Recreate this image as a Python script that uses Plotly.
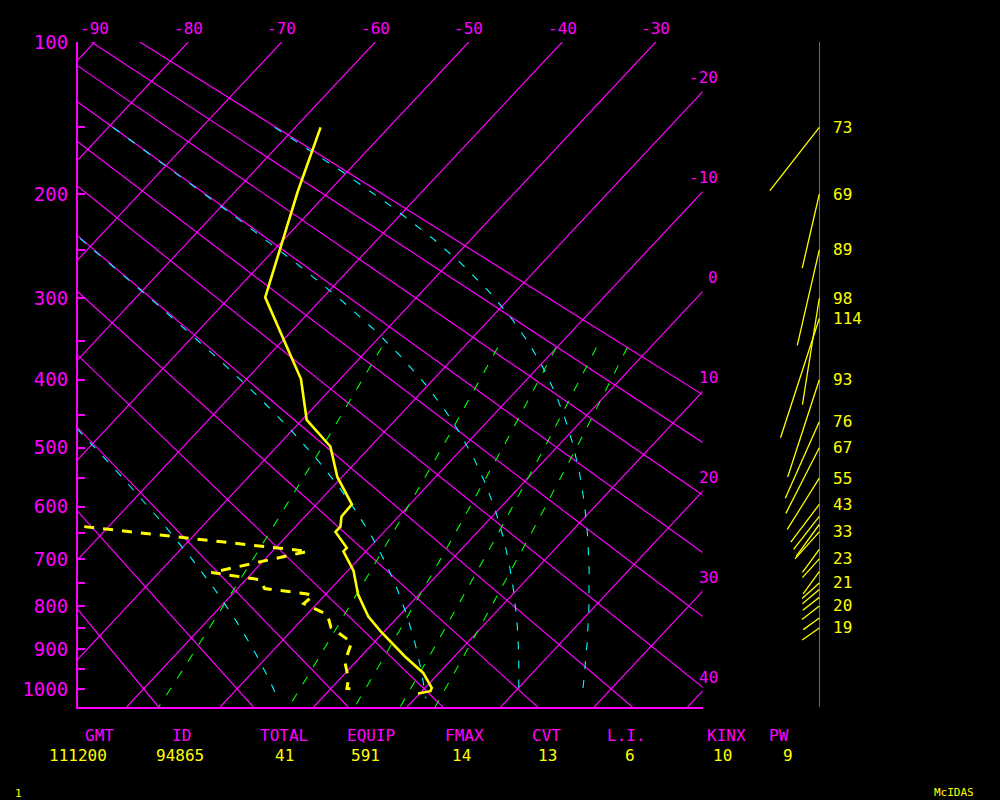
import numpy as np
import plotly.graph_objects as go

# ---------------- data ----------------
temp_p = [150, 198, 299, 399, 457, 498, 548, 596, 618, 637, 647, 678, 685, 724,
          775, 824, 858, 918, 959, 997, 1006, 1012]
temp_c = [-57.3, -53.3, -46.2, -34.2, -29.5, -24.3, -20.5, -16.2, -16.1, -15.2,
          -15.2, -12.4, -12.4, -9.4, -6.5, -3.2, -0.4, 4.7, 8.3, 10.7, 10.9, 9.8]

dwpt_p = [637, 685, 728, 743, 762, 773, 777, 795, 819, 849, 884, 931, 974, 999, 1001]
dwpt_c = [-42.6, -16.2, -24.4, -18.5, -17.1, -12.2, -11.2, -11.4, -7.8, -6.1,
          -2.4, -1.2, 0.9, 1.7, 2.7]

wind_p = [150, 200, 250, 300, 323, 400, 460, 500, 550, 596, 618, 633, 647, 681,
          700, 726, 750, 764, 781, 800, 827, 850]
wind_dir = [218, 193, 193, 189, 198, 198, 204, 207, 212, 217, 218, 216, 222, 216,
            222, 216, 228, 230, 232, 232, 234, 235]
wind_kt = [73, 69, 89, 98, 114, 93, 76, 67, 55, 43, 38, 36, 33, 26,
           23, 25, 21, 20, 19, 20, 18, 19]
wind_label = ["73", "69", "89", "98", "114", "93", "76", "67", "55", "43", "", "", "33", "",
              "23", "", "21", "", "", "20", "", "19"]

isotherms_c = [-90, -80, -70, -60, -50, -40, -30, -20, -10, 0, 10, 20, 30, 40]
top_labels_c = [-90, -80, -70, -60, -50, -40, -30]
right_labels_c = [-20, -10, 0, 10, 20, 30, 40]
dry_adiabats_c = [-20, -10, 0, 10, 20, 30, 40, 50, 60, 70, 80, 90]
moist_thetae_c = [0, 30, 60, 90]
mixing_ratio_gkg = [1, 3, 5, 7, 9]
pressure_ticks = [100, 150, 200, 250, 300, 350, 400, 450, 500, 550, 600, 650,
                  700, 750, 800, 850, 900, 950, 1000]
pressure_labels = ["100", "", "200", "", "300", "", "400", "", "500", "", "600", "",
                   "700", "", "800", "", "900", "", "1000"]

header_names = ["GMT", "ID", "TOTAL", "EQUIP", "FMAX", "CVT", "L.I.", "KINX", "PW"]
header_values = ["111200", "94865", "41", "591", "14", "13", "6", "10", "9"]

# ---------------- layout constants ----------------
MAG, YEL, CYA, GRN = "#ff00ff", "#ffff00", "#00ffff", "#00ff00"
FONT = "DejaVu Sans Mono"
KAPPA = 0.286
P_TOP, P_BOT = 100.0, 1048.0
Y_TOP, Y_BOT = P_TOP ** KAPPA, P_BOT ** KAPPA
SKEW = 18.62              # deg C per unit of p**kappa
X_LEFT, X_RIGHT = -91.82, -25.0
MT, MB = 42, 93
PLOT_H = 800 - MT - MB
K_PX = PLOT_H / (Y_BOT - Y_TOP)   # pixels per unit of p**kappa
DOM_L, DOM_R = 0.0777, 0.7025
WIND_X0 = 819.3                    # pixel of wind staff
X2_RANGE = [DOM_R * 1000 - WIND_X0, 1000 - WIND_X0]


def yv(p):
    return np.asarray(p, float) ** KAPPA


def skew_x(t, p):
    return np.asarray(t, float) - SKEW * (yv(p) - Y_TOP)


def esat(t):
    return 6.112 * np.exp(17.67 * t / (t + 243.5))


def theta_e(t, p):
    tk = t + 273.15
    es = esat(t)
    ws = 0.622 * es / (p - es)
    return tk * (1000.0 / p) ** KAPPA * np.exp(2.5e6 * ws / (1004.0 * tk))


def moist_t(te_k, p):
    lo, hi = -130.0, 60.0
    for _ in range(60):
        mid = 0.5 * (lo + hi)
        if theta_e(mid, p) > te_k:
            hi = mid
        else:
            lo = mid
    return 0.5 * (lo + hi)


fig = go.Figure()


def add_line(x, y, color, width, dash="solid", xaxis="x"):
    fig.add_trace(go.Scatter(x=x, y=y, mode="lines", xaxis=xaxis, yaxis="y",
                             line=dict(color=color, width=width, dash=dash),
                             hoverinfo="skip", showlegend=False))


# isotherms
for t in isotherms_c:
    pp = np.array([P_TOP, P_BOT])
    add_line(skew_x([t, t], pp), yv(pp), MAG, 1.2)

# dry adiabats
for th in dry_adiabats_c:
    pp = np.array([P_TOP, P_BOT])
    tt = (th + 273.15) * (pp / 1000.0) ** KAPPA - 273.15
    add_line(skew_x(tt, pp), yv(pp), MAG, 1.2)

# mixing ratio lines
for w in mixing_ratio_gkg:
    pp = np.linspace(358, P_BOT, 40)
    e = w * pp / (622.0 + w)
    ln = np.log(e / 6.112)
    td = 243.5 * ln / (17.67 - ln)
    add_line(skew_x(td, pp), yv(pp), GRN, 1.1, dash="9px,11px")

# moist adiabats
for te in moist_thetae_c:
    pp = np.linspace(150, 1025, 150)
    tt = np.array([moist_t(te + 273.15, p) for p in pp])
    add_line(skew_x(tt, pp), yv(pp), CYA, 1.1, dash="8px,11px")

# temperature and dewpoint
add_line(skew_x(temp_c, temp_p), yv(temp_p), YEL, 2.6)
add_line(skew_x(dwpt_c, dwpt_p), yv(dwpt_p), YEL, 3, dash="10px,9px")

# wind sticks
wx, wy = [], []
for p, d, s in zip(wind_p, wind_dir, wind_kt):
    L = 1.1 * s
    r = np.deg2rad(d)
    y0 = float(yv(p))
    wx += [0.0, L * np.sin(r), None]
    wy += [y0, y0 - L * np.cos(r) / K_PX, None]
add_line(wx, wy, YEL, 1.3, xaxis="x2")

annotations = []
for t in top_labels_c:
    annotations.append(dict(x=float(skew_x(t, P_TOP)), y=Y_TOP, xref="x", yref="y",
                            text=f"{t}", showarrow=False, yshift=14, xanchor="center",
                            font=dict(family=FONT, size=16, color=MAG)))
for t in right_labels_c:
    ye = Y_TOP + (t - X_RIGHT) / SKEW
    annotations.append(dict(x=720 - WIND_X0, y=ye, xref="x2", yref="y",
                            text=f"{t}", showarrow=False, yshift=14, xanchor="right",
                            font=dict(family=FONT, size=16, color=MAG)))
for p, lab in zip(wind_p, wind_label):
    if lab:
        annotations.append(dict(x=12, y=float(yv(p)), xref="x2", yref="y", text=lab,
                                showarrow=False, xanchor="left", yanchor="middle",
                                font=dict(family=FONT, size=16, color=YEL)))

name_x = [99, 181, 284, 371, 464, 546, 626, 726, 779]
val_x = [78, 180, 284, 365, 461, 547, 630, 722, 787.5]
for nx, nm in zip(name_x, header_names):
    annotations.append(dict(x=nx / 1000, y=0, xref="paper", yref="paper", text=nm,
                            showarrow=False, xanchor="center", yanchor="middle",
                            yshift=-(735 - (800 - MB)),
                            font=dict(family=FONT, size=16, color=MAG)))
for vx, vl in zip(val_x, header_values):
    annotations.append(dict(x=vx / 1000, y=0, xref="paper", yref="paper", text=vl,
                            showarrow=False, xanchor="center", yanchor="middle",
                            yshift=-(755 - (800 - MB)),
                            font=dict(family=FONT, size=16, color=YEL)))
annotations.append(dict(x=18.7 / 1000, y=0, xref="paper", yref="paper", text="1",
                        showarrow=False, xanchor="center", yanchor="middle",
                        yshift=-(793 - (800 - MB)),
                        font=dict(family=FONT, size=11, color=YEL)))
annotations.append(dict(x=954 / 1000, y=0, xref="paper", yref="paper", text="McIDAS",
                        showarrow=False, xanchor="center", yanchor="middle",
                        yshift=-(792.5 - (800 - MB)),
                        font=dict(family=FONT, size=11, color=YEL)))

fig.update_layout(
    width=1000, height=800,
    margin=dict(l=0, r=0, t=MT, b=MB),
    paper_bgcolor="black", plot_bgcolor="black",
    showlegend=False,
    annotations=annotations,
    xaxis=dict(domain=[DOM_L, DOM_R], range=[X_LEFT, X_RIGHT], showgrid=False,
               zeroline=False, showticklabels=False, ticks="", showline=True,
               linecolor=MAG, linewidth=1.5, anchor="y"),
    xaxis2=dict(domain=[DOM_R, 1.0], range=X2_RANGE, showgrid=False, zeroline=True,
                zerolinecolor=MAG, zerolinewidth=1.2, showticklabels=False,
                ticks="", showline=False, anchor="y"),
    yaxis=dict(domain=[0, 1], range=[Y_BOT, Y_TOP], showgrid=False, zeroline=False,
               showline=True, linecolor=MAG, linewidth=1.5, anchor="x",
               tickmode="array", tickvals=list(yv(pressure_ticks)),
               ticktext=pressure_labels, ticks="inside", ticklen=8,
               tickcolor=MAG, tickwidth=1.5, ticklabelstandoff=4,
               tickfont=dict(family=FONT, size=19, color=MAG)),
)

fig.write_html(
    "out.html",
    config={"displayModeBar": False},
    post_script="document.body.style.margin='0';document.body.style.background='black';"
                "document.body.style.overflow='hidden';",
)
